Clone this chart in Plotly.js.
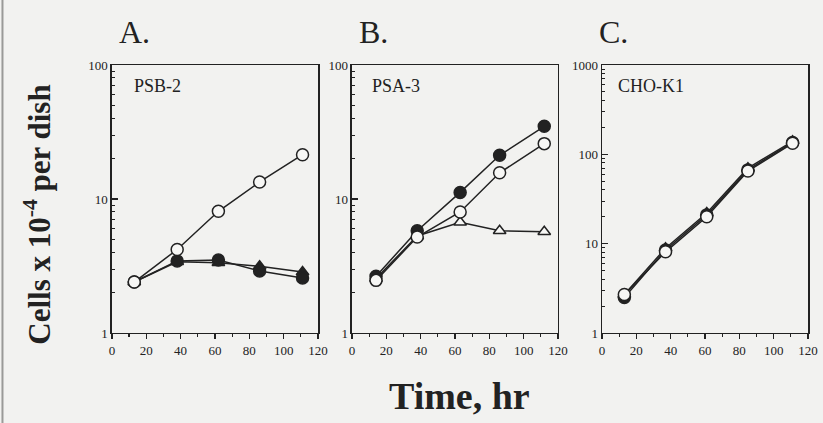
<!DOCTYPE html>
<html><head><meta charset="utf-8">
<script src="https://cdn.plot.ly/plotly-3.0.1.min.js"></script>
<style>html,body{margin:0;padding:0;background:#f2f2f0;}</style>
</head><body><div id="chart" style="width:823px;height:423px;"></div>
<script>
// Time points (hr)
const timeA = [13, 38, 62, 86, 111];
const timeB = [14, 38, 63, 86, 112];
const timeC = [13, 37, 61, 85, 111];
// Panel A: PSB-2
const psb2Open = [2.4, 4.2, 8.1, 13.4, 21.4];
const psb2Filled = [2.4, 3.45, 3.5, 2.9, 2.57];
const psb2Tri = [2.4, 3.4, 3.35, 3.15, 2.85];
// Panel B: PSA-3
const psa3Filled = [2.65, 5.8, 11.2, 21.2, 34.9];
const psa3Open = [2.47, 5.2, 8.0, 15.7, 25.9];
const psa3TriOpen = [2.55, 5.3, 6.7, 5.8, 5.7];
// Panel C: CHO-K1
const choFilled = [2.5, 8.5, 21, 67, 136];
const choTri = [2.7, 8.9, 22, 70, 140];
const choOpen = [2.7, 8.1, 20, 65, 133];
const panelLetters = ["A.", "B.", "C."];
const cellLines = ["PSB-2", "PSA-3", "CHO-K1"];
const xTicks = [0, 20, 40, 60, 80, 100, 120];
const yTicksAB = [1, 10, 100];
const yTicksC = [1, 10, 100, 1000];

const ink = '#222';
const bg = '#f2f2f0';
const serif = "'Liberation Serif', 'Times New Roman', serif";
const lineStyle = {color: ink, width: 1.5};
function tr(x, y, sym, filled, xa, ya) {
  return {x: x, y: y, xaxis: xa, yaxis: ya, mode: 'lines+markers', type: 'scatter',
    line: lineStyle, showlegend: false,
    marker: {symbol: sym, size: sym === 'triangle-up' ? 11 : 12,
      color: filled ? ink : '#f7f7f5',
      line: {color: ink, width: 1.5}}};
}
const data = [
  tr(timeA, psb2Tri, 'triangle-up', true, 'x', 'y'),
  tr(timeA, psb2Filled, 'circle', true, 'x', 'y'),
  tr(timeA, psb2Open, 'circle', false, 'x', 'y'),
  tr(timeB, psa3TriOpen, 'triangle-up', false, 'x2', 'y2'),
  tr(timeB, psa3Filled, 'circle', true, 'x2', 'y2'),
  tr(timeB, psa3Open, 'circle', false, 'x2', 'y2'),
  tr(timeC, choFilled, 'circle', true, 'x3', 'y3'),
  tr(timeC, choTri, 'triangle-up', true, 'x3', 'y3'),
  tr(timeC, choOpen, 'circle', false, 'x3', 'y3'),
];

const tickFont = {family: serif, size: 13, color: ink};
function xa(dom, anchor) {
  return {domain: dom, anchor: anchor, range: [0, 120], tickvals: xTicks, ticktext: xTicks.map(String),
    ticks: 'outside', ticklen: 5, tickwidth: 1.5, tickcolor: ink,
    minor: {tickvals: [10, 30, 50, 70, 90, 110], ticks: 'outside', ticklen: 3, tickwidth: 1.2, tickcolor: ink},
    showline: true, linecolor: ink, linewidth: 1.5, mirror: true, showgrid: false, zeroline: false,
    tickfont: tickFont, fixedrange: true};
}
function minorLog(maxDec) {
  const v = [];
  for (let d = 0; d < maxDec; d++) for (let k = 2; k <= 9; k++) v.push(k * Math.pow(10, d));
  return v;
}
function ya(anchor, ticks, maxDec) {
  return {domain: [0.2128, 0.8463], type: 'log', range: [0, maxDec], anchor: anchor,
    tickvals: ticks, ticktext: ticks.map(String),
    ticks: 'inside', ticklen: 6, tickwidth: 1.5, tickcolor: ink,
    minor: {tickvals: minorLog(maxDec), ticks: 'inside', ticklen: 3, tickwidth: 1, tickcolor: ink},
    showline: true, linecolor: ink, linewidth: 1.5, mirror: true, showgrid: false, zeroline: false,
    tickfont: tickFont, fixedrange: true};
}
const annots = [];
const letterX = [0.142, 0.434, 0.725];
panelLetters.forEach((t, i) => annots.push({text: t, xref: 'paper', yref: 'paper', x: letterX[i], y: 0.925,
  xanchor: 'left', yanchor: 'middle', showarrow: false, font: {family: serif, size: 32, color: ink}}));
const nameX = [0.160, 0.450, 0.748];
cellLines.forEach((t, i) => annots.push({text: t, xref: 'paper', yref: 'paper', x: nameX[i], y: 0.797,
  xanchor: 'left', yanchor: 'middle', showarrow: false,
  font: {family: serif, size: 18, color: ink}}));
annots.push({text: '<b>Cells x 10<sup>-4</sup> per dish</b>', xref: 'paper', yref: 'paper', x: 0.046, y: 0.492,
  textangle: -90, showarrow: false, xanchor: 'center', yanchor: 'middle',
  font: {family: serif, size: 31, color: ink}});
annots.push({text: '<b>Time, hr</b>', xref: 'paper', yref: 'paper', x: 0.558, y: 0.065,
  showarrow: false, xanchor: 'center', yanchor: 'middle',
  font: {family: serif, size: 38, color: ink}});

const layout = {
  width: 823, height: 423, margin: {l: 0, r: 0, t: 0, b: 0},
  paper_bgcolor: bg, plot_bgcolor: bg, showlegend: false,
  font: {family: serif, color: ink},
  xaxis: xa([0.136, 0.3864], 'y'), yaxis: ya('x', yTicksAB, 2),
  xaxis2: xa([0.4277, 0.678], 'y2'), yaxis2: ya('x2', yTicksAB, 2),
  xaxis3: xa([0.7315, 0.9818], 'y3'), yaxis3: ya('x3', yTicksC, 3),
  annotations: annots,
  shapes: [{type: 'line', xref: 'paper', yref: 'paper', x0: 0.003, x1: 0.003, y0: 0, y1: 1,
    line: {color: '#9a9a98', width: 2}}]
};
Plotly.newPlot('chart', data, layout, {displayModeBar: false, staticPlot: true});
</script></body></html>
